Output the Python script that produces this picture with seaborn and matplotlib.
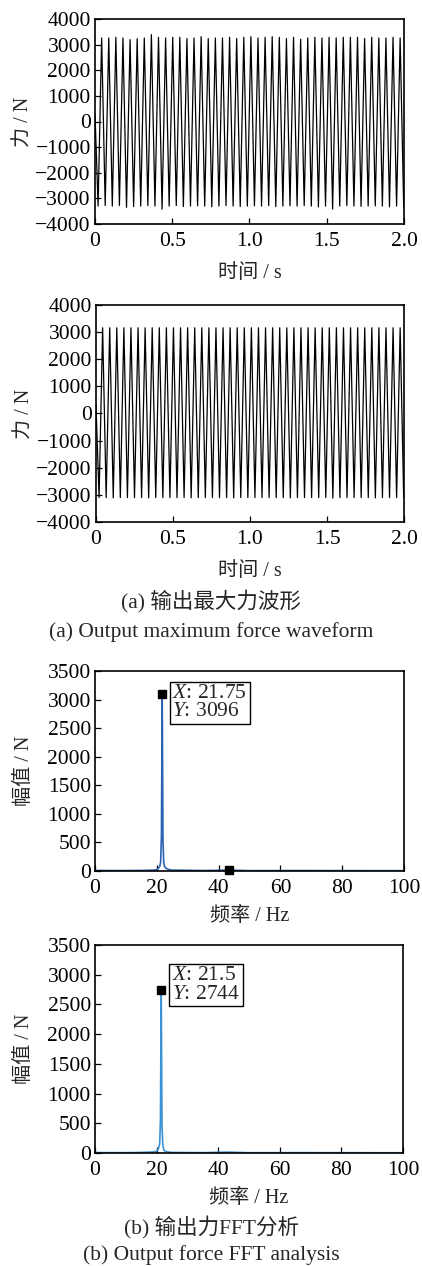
import numpy as np
import pandas as pd
import matplotlib
matplotlib.use("Agg")
import matplotlib.pyplot as plt
import seaborn as sns

# ---------------- data ----------------
# waveform (a): alternating trough / peak samples
t_a = [0.000, 0.020, 0.043, 0.066, 0.089, 0.112, 0.135, 0.158, 0.181, 0.204, 0.227,
       0.250, 0.273, 0.296, 0.319, 0.342, 0.365, 0.388, 0.411, 0.434, 0.457,
       0.480, 0.503, 0.526, 0.549, 0.572, 0.595, 0.618, 0.641, 0.664, 0.687,
       0.710, 0.733, 0.756, 0.779, 0.802, 0.825, 0.848, 0.871, 0.894, 0.917,
       0.940, 0.963, 0.986, 1.009, 1.032, 1.055, 1.078, 1.101, 1.124, 1.147,
       1.170, 1.193, 1.216, 1.239, 1.262, 1.285, 1.308, 1.331, 1.354, 1.377,
       1.400, 1.423, 1.446, 1.469, 1.492, 1.515, 1.538, 1.561, 1.584, 1.607,
       1.630, 1.653, 1.676, 1.699, 1.722, 1.745, 1.768, 1.791, 1.814, 1.837,
       1.860, 1.883, 1.906, 1.929, 1.952, 1.975, 1.998]
f_a = [300, -3300, 3260, -3280, 3260, -3300, 3285, -3280, 3260, -3350, 3195,
       -3320, 3230, -3300, 3260, -3280, 3390, -3300, 3285, -3420, 3260,
       -3300, 3285, -3280, 3285, -3320, 3235, -3300, 3260, -3290, 3310,
       -3300, 3235, -3330, 3260, -3300, 3260, -3280, 3285, -3300, 3235,
       -3320, 3285, -3300, 3310, -3290, 3260, -3300, 3285, -3280, 3310,
       -3320, 3285, -3300, 3235, -3290, 3285, -3300, 3210, -3280, 3260,
       -3300, 3285, -3330, 3260, -3300, 3285, -3420, 3260, -3300, 3285,
       -3280, 3285, -3300, 3285, -3310, 3235, -3300, 3285, -3290, 3260,
       -3300, 3260, -3330, 3285, -3300, 3260, -3320]
# waveform (b)
t_b = t_a
f_b = [300, -3100, 3160, -3100, 3160, -3110, 3160, -3100, 3160, -3100, 3160,
       -3100, 3160, -3100, 3160, -3110, 3160, -3100, 3160, -3100, 3160,
       -3100, 3160, -3100, 3160, -3100, 3160, -3110, 3160, -3100, 3160,
       -3100, 3160, -3100, 3160, -3100, 3160, -3100, 3160, -3110, 3160,
       -3100, 3160, -3100, 3160, -3100, 3160, -3100, 3160, -3100, 3160,
       -3100, 3160, -3100, 3160, -3110, 3160, -3100, 3160, -3100, 3160,
       -3100, 3160, -3100, 3160, -3100, 3160, -3120, 3160, -3100, 3160,
       -3100, 3160, -3100, 3160, -3100, 3160, -3100, 3160, -3110, 3160,
       -3100, 3160, -3100, 3160, -3100, 3160, -3100]

# FFT (a)
freq_a = [0, 5, 10, 15, 19, 20, 20.5, 21, 21.25, 21.5, 21.75, 22, 22.25, 22.5,
          23, 24, 25, 30, 35, 43.5, 50, 65, 86, 100]
amp_a = [10, 8, 8, 10, 15, 25, 45, 90, 160, 620, 3096, 520, 150, 80,
         45, 25, 15, 12, 8, 15, 6, 8, 6, 5]
peak_a = (21.75, 3096)
peak_a2 = (43.5, 20)

# FFT (b)
freq_b = [0, 5, 10, 15, 19, 20, 20.5, 21, 21.25, 21.5, 21.75, 22, 22.25, 22.5,
          23, 24, 25, 30, 35, 43, 50, 65, 86, 100]
amp_b = [8, 6, 6, 10, 18, 30, 60, 150, 560, 2744, 480, 160, 70, 40,
         25, 15, 10, 8, 6, 15, 5, 6, 5, 4]
peak_b = (21.5, 2744)

time_ticks = [0, 0.5, 1.0, 1.5, 2.0]
time_ticklabels = ["0", "0.5", "1.0", "1.5", "2.0"]
force_ticks = [-4000, -3000, -2000, -1000, 0, 1000, 2000, 3000, 4000]
freq_ticks = [0, 20, 40, 60, 80, 100]
amp_ticks = [0, 500, 1000, 1500, 2000, 2500, 3000, 3500]

# ---------------- style ----------------
sns.set_style("white")
plt.rcParams['font.family'] = ['Liberation Serif', 'Noto Sans CJK SC']
plt.rcParams['mathtext.fontset'] = 'custom'
plt.rcParams['mathtext.rm'] = 'Liberation Serif'
plt.rcParams['mathtext.it'] = 'Liberation Serif:italic'
plt.rcParams['axes.unicode_minus'] = True

W, H = 422, 1266
fig = plt.figure(figsize=(W / 100, H / 100), dpi=100)


def add_ax(l, r, t, b):
    return fig.add_axes([l / W, 1 - b / H, (r - l) / W, (b - t) / H])


TICK_FS = 15.5
LAB_FS = 14.5


def style(ax):
    for s in ax.spines.values():
        s.set_linewidth(1.2)
        s.set_color('black')
    ax.tick_params(direction='in', length=4, width=0.9, labelsize=TICK_FS,
                   top=False, right=False, bottom=True, left=True, pad=3,
                   colors='black')
    ax.tick_params(axis='x', pad=6)


def wave(ax, t, f):
    sns.lineplot(x=t, y=f, ax=ax, sort=False, estimator=None,
                 color='black', linewidth=0.9)
    ax.set_xlim(0, 2.0)
    ax.set_ylim(-4000, 4000)
    ax.set_xticks(time_ticks)
    ax.set_xticklabels(time_ticklabels)
    ax.set_yticks(force_ticks)
    ax.set_xlabel("时间 / s", fontsize=LAB_FS, labelpad=9)
    ax.set_ylabel("力 / N", fontsize=LAB_FS, labelpad=1)
    style(ax)


def fft(ax, fr, am, color, peak, box_xy, label_x, label_y, extra=None):
    sns.lineplot(x=fr, y=am, ax=ax, sort=False, estimator=None,
                 color=color, linewidth=1.2)
    ax.plot([peak[0]], [peak[1]], marker='s', color='black', markersize=6, zorder=5)
    if extra is not None:
        ax.plot([extra[0]], [extra[1]], marker='s', color='black', markersize=6,
                zorder=5, clip_on=False)
    ax.set_xlim(0, 100)
    ax.set_ylim(0, 3500)
    ax.set_xticks(freq_ticks)
    ax.set_yticks(amp_ticks)
    ax.set_xlabel("频率 / Hz", fontsize=LAB_FS, labelpad=6)
    ax.set_ylabel("幅值 / N", fontsize=LAB_FS, labelpad=10)
    ax.text(box_xy[0], box_xy[1],
            r"$\mathit{X}$: " + label_x + "\n" + r"$\mathit{Y}$: " + label_y,
            fontsize=TICK_FS, va='top', ha='left', linespacing=0.95,
            bbox=dict(boxstyle='square,pad=0.12', facecolor='white',
                      edgecolor='black', linewidth=1.0))
    style(ax)


ax1 = add_ax(95, 404, 19, 224)
wave(ax1, t_a, f_a)

ax2 = add_ax(96, 404, 305, 522)
wave(ax2, t_b, f_b)

fig.text(0.5, 1 - 602 / H, "(a) 输出最大力波形", ha='center', va='center', fontsize=15.5)
fig.text(0.5, 1 - 632 / H, "(a) Output maximum force waveform", ha='center', va='center',
         fontsize=15.5)

ax3 = add_ax(95, 404, 671, 871)
fft(ax3, freq_a, amp_a, '#2a63b3', peak_a, (25.0, 3270), "21.75", "3096", extra=peak_a2)

ax4 = add_ax(95, 403, 945, 1153)
fft(ax4, freq_b, amp_b, '#3b92d4', peak_b, (25.0, 3140), "21.5", "2744")

fig.text(0.5, 1 - 1228 / H, "(b) 输出力FFT分析", ha='center', va='center', fontsize=15.5)
fig.text(0.5, 1 - 1255 / H, "(b) Output force FFT analysis", ha='center', va='center',
         fontsize=15.5)

fig.savefig("out.png", dpi=100)
